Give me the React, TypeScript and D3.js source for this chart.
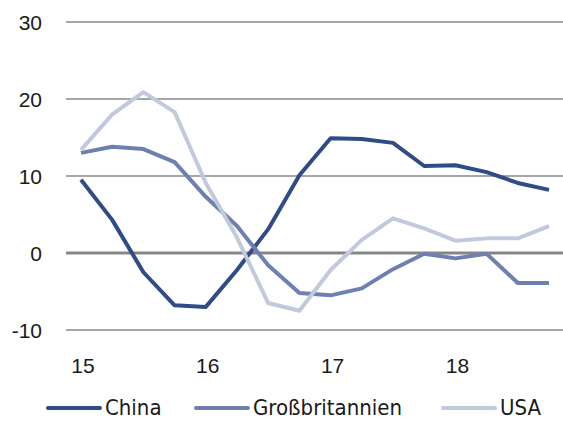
import React from "react";
import * as d3 from "d3";

const quarters = d3.range(16);
const xTickLabels = ["15", "16", "17", "18"];
const xTickIndex = [0, 4, 8, 12];
const yTicks = [-10, 0, 10, 20, 30];

const china = [9.5, 4.3, -2.5, -6.8, -7.0, -2.2, 3.1, 10.1, 14.9, 14.8, 14.3, 11.3, 11.4, 10.5, 9.1, 8.2];
const gb = [13.0, 13.8, 13.5, 11.8, 7.3, 3.5, -1.6, -5.2, -5.5, -4.6, -2.1, -0.1, -0.7, -0.1, -3.9, -3.9];
const usa = [13.4, 18.0, 20.9, 18.3, 9.1, 2.0, -6.5, -7.5, -2.2, 1.7, 4.5, 3.2, 1.6, 1.9, 1.9, 3.5];

const seriesNames = ["China", "Großbritannien", "USA"];
const seriesColors = ["#2F4B88", "#6F80B0", "#C1C9DC"];
const seriesData = [china, gb, usa];

export default function App() {
  const W = 563, H = 421;
  const x = d3.scaleLinear().domain([0, quarters.length - 1]).range([81, 549]);
  const y = d3.scaleLinear().domain([-10, 30]).range([330, 22]);
  const line = d3.line<number>().x((_, i) => x(i)).y((d) => y(d));
  const numFont = "'Liberation Sans', Arial, sans-serif";
  const legFont = "'DejaVu Sans Condensed', 'Liberation Sans Narrow', 'Arial Narrow', sans-serif";
  const legendItems = [
    { x1: 48, x2: 100, tx: 105 },
    { x1: 196, x2: 248, tx: 253 },
    { x1: 443, x2: 495, tx: 500 },
  ];
  return (
    <svg width={W} height={H} style={{ position: "absolute", left: 0, top: 0, background: "#fff" }}>
      {yTicks.map((t) => (
        <g key={t}>
          <line x1={66} x2={563} y1={y(t)} y2={y(t)} stroke={t === 0 ? "#868686" : "#A6A6A6"} strokeWidth={t === 0 ? 3.2 : 2} />
          <text x={42} y={y(t) + 7.5} textAnchor="end" fontFamily={numFont} fontSize={21} fill="#1a1a1a">
            {t < 0 ? "-" + Math.abs(t) : t}
          </text>
        </g>
      ))}
      {xTickIndex.map((q, i) => (
        <text key={q} x={x(q) + 2} y={373} textAnchor="middle" fontFamily={numFont} fontSize={21} fill="#1a1a1a">
          {xTickLabels[i]}
        </text>
      ))}
      {seriesData.map((d, i) => (
        <path key={i} d={line(d) || ""} fill="none" stroke={seriesColors[i]} strokeWidth={4} strokeLinejoin="round" />
      ))}
      {seriesNames.map((n, i) => (
        <g key={n}>
          <line x1={legendItems[i].x1} x2={legendItems[i].x2} y1={408} y2={408} stroke={seriesColors[i]} strokeWidth={4} strokeLinecap="round" />
          <text x={legendItems[i].tx} y={415} fontFamily={legFont} fontSize={22} fill="#1a1a1a">{n}</text>
        </g>
      ))}
    </svg>
  );
}
